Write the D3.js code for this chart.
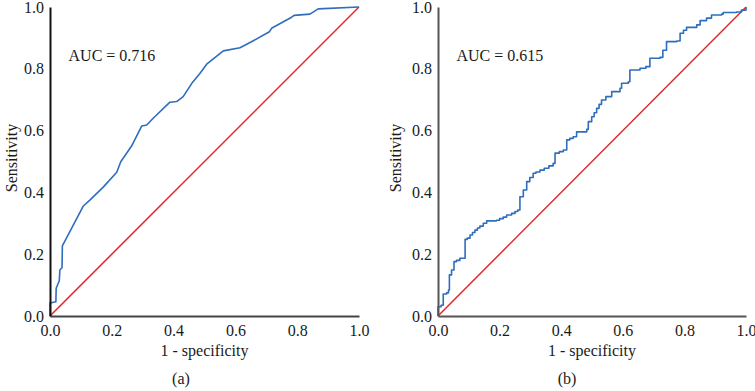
<!DOCTYPE html>
<html>
<head>
<meta charset="utf-8">
<script src="https://cdn.jsdelivr.net/npm/d3@7"></script>
<style>
  body { margin: 0; background: #fff; }
  text { font-family: "Liberation Serif", "Times New Roman", serif; fill: #1a1a1a; }
</style>
</head>
<body>
<div id="chart"></div>
<script>
// ROC points (1 - specificity, sensitivity)
var fprA = [0, 0, 0.019, 0.02, 0.03, 0.032, 0.039, 0.04, 0.108, 0.129, 0.173, 0.216, 0.229, 0.264, 0.297, 0.313, 0.334, 0.388, 0.41, 0.431, 0.459, 0.485, 0.507, 0.561, 0.615, 0.658, 0.71, 0.717, 0.782, 0.79, 0.841, 0.868, 1];
var tprA = [0, 0.042, 0.046, 0.09, 0.114, 0.149, 0.156, 0.227, 0.356, 0.375, 0.418, 0.465, 0.499, 0.55, 0.615, 0.618, 0.64, 0.692, 0.694, 0.71, 0.753, 0.785, 0.815, 0.858, 0.868, 0.891, 0.92, 0.931, 0.967, 0.973, 0.977, 0.994, 1];

var fprB = [0, 0, 0.01, 0.017, 0.028, 0.034, 0.037, 0.044, 0.052, 0.06, 0.071, 0.088, 0.095, 0.104, 0.112, 0.12, 0.128, 0.136, 0.147, 0.158, 0.19, 0.2, 0.212, 0.223, 0.239, 0.25, 0.259, 0.266, 0.277, 0.288, 0.298, 0.309, 0.318, 0.331, 0.345, 0.36, 0.374, 0.38, 0.394, 0.407, 0.418, 0.428, 0.439, 0.45, 0.483, 0.488, 0.499, 0.507, 0.515, 0.523, 0.531, 0.545, 0.564, 0.591, 0.596, 0.618, 0.623, 0.656, 0.675, 0.688, 0.721, 0.73, 0.742, 0.775, 0.786, 0.797, 0.807, 0.84, 0.851, 0.872, 0.888, 0.921, 0.926, 0.969, 0.985, 1];
var tprB = [0, 0.03, 0.035, 0.071, 0.075, 0.084, 0.133, 0.149, 0.176, 0.18, 0.187, 0.248, 0.252, 0.262, 0.27, 0.278, 0.285, 0.291, 0.3, 0.308, 0.31, 0.315, 0.32, 0.327, 0.332, 0.338, 0.343, 0.386, 0.408, 0.435, 0.448, 0.462, 0.466, 0.472, 0.478, 0.486, 0.494, 0.527, 0.532, 0.537, 0.57, 0.575, 0.58, 0.596, 0.604, 0.629, 0.645, 0.658, 0.672, 0.685, 0.699, 0.71, 0.726, 0.737, 0.753, 0.758, 0.796, 0.802, 0.807, 0.834, 0.837, 0.86, 0.888, 0.89, 0.915, 0.925, 0.934, 0.942, 0.956, 0.964, 0.974, 0.977, 0.982, 0.984, 0.99, 1];

var ticks = [0, 0.2, 0.4, 0.6, 0.8, 1.0];
var aucLabels = ["AUC = 0.716", "AUC = 0.615"];
var panelLabels = ["(a)", "(b)"];

var svg = d3.select("#chart").append("svg")
    .attr("width", 755)
    .attr("height", 391);

function draw_panel(opts){
    var g = svg.append("g");
    var x = d3.scaleLinear().domain([0, 1]).range([opts.left, opts.right]);
    var y = d3.scaleLinear().domain([0, 1]).range([316, 7]);

    // diagonal reference
    g.append("line")
        .attr("x1", x(0)).attr("y1", y(0))
        .attr("x2", x(1)).attr("y2", y(1))
        .attr("stroke", "#e3262c")
        .attr("stroke-width", 1.5);

    var pts = opts.fpr.map(function(d, i){ return [d, opts.tpr[i]]; });
    var line = d3.line()
        .x(function(d){ return x(d[0]); })
        .y(function(d){ return y(d[1]); })
        .curve(opts.curve);
    g.append("path")
        .datum(pts)
        .attr("d", line)
        .attr("fill", "none")
        .attr("stroke", "#2f6dbd")
        .attr("stroke-width", 1.6)
        .attr("stroke-linejoin", "round");

    var xAxis = d3.axisBottom(x).tickValues(ticks).tickFormat(d3.format(".1f")).tickSize(0).tickPadding(9);
    var yAxis = d3.axisLeft(y).tickValues(ticks).tickFormat(d3.format(".1f")).tickSize(0).tickPadding(6);

    var gx = g.append("g").attr("transform", "translate(0,316)").call(xAxis);
    var gy = g.append("g").attr("transform", "translate(" + opts.left + ",0)").call(yAxis);
    gx.select(".domain").attr("stroke", opts.xColor).attr("stroke-width", 2);
    gy.select(".domain").attr("stroke", opts.yColor).attr("stroke-width", 2);
    g.selectAll(".tick text")
        .style("font-family", "'Liberation Serif', serif")
        .style("font-size", "16px")
        .attr("fill", "#1a1a1a");

    g.append("text")
        .attr("x", x(0.06)).attr("y", 61)
        .style("font-size", "16px")
        .text(opts.auc);

    g.append("text")
        .attr("x", (opts.left + opts.right) / 2)
        .attr("y", 356)
        .attr("text-anchor", "middle")
        .style("font-size", "16px")
        .text("1 - specificity");

    g.append("text")
        .attr("transform", "translate(" + opts.yLabelX + ",158) rotate(-90)")
        .attr("text-anchor", "middle")
        .style("font-size", "16px")
        .text("Sensitivity");

    g.append("text")
        .attr("x", opts.panelX)
        .attr("y", 384)
        .attr("text-anchor", "middle")
        .style("font-size", "16px")
        .text(opts.panel);
}

draw_panel({left: 50, right: 359, fpr: fprA, tpr: tprA, curve: d3.curveLinear,
    xColor: "#444", yColor: "#111", auc: aucLabels[0], panel: panelLabels[0],
    yLabelX: 17, panelX: 181});
draw_panel({left: 438, right: 746, fpr: fprB, tpr: tprB, curve: d3.curveStepAfter,
    xColor: "#555", yColor: "#555", auc: aucLabels[1], panel: panelLabels[1],
    yLabelX: 401, panelX: 567});
</script>
</body>
</html>
